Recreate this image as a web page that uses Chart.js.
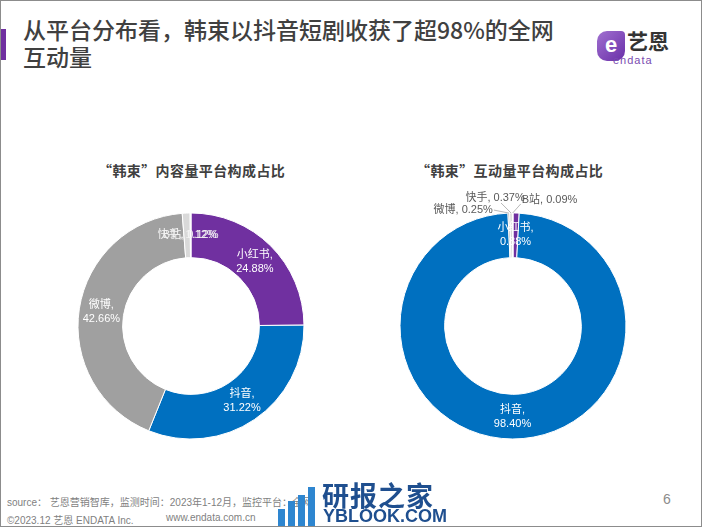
<!DOCTYPE html>
<html>
<head>
<meta charset="utf-8">
<script src="https://cdn.jsdelivr.net/npm/chart.js@4"></script>
<style>
  body { margin: 0; background: #fff; font-family: "Noto Sans CJK SC", "Liberation Sans", sans-serif; }
  #slide { position: relative; width: 700px; height: 525px; border: 1px solid #8c8c8c; overflow: hidden; background: #fff; }
  .bar { position: absolute; left: 0; top: 28px; width: 5px; height: 31px; background: #7030a0; }
  .headline { position: absolute; left: 22px; top: 15px; font-size: 23px; line-height: 27px; color: #404040; font-weight: 500; }
  .ctitle { position: absolute; top: 159px; font-size: 14px; font-weight: bold; color: #404040; white-space: nowrap; letter-spacing: 0.4px; }
  .cbox { position: absolute; width: 300px; height: 300px; }
  .foot { position: absolute; font-size: 10px; color: #7f7f7f; font-family: "Liberation Sans", "Noto Sans CJK SC", sans-serif; white-space: nowrap; }
  .logo-icon { position: absolute; left: 596px; top: 30px; width: 28px; height: 30px; border-radius: 10px 4px 10px 10px; background: linear-gradient(135deg, #a070d0, #6a2fa8); color: #fff; font: bold 22px/28px "Liberation Sans", sans-serif; text-align: center; }
  .logo-cn { position: absolute; left: 626px; top: 27px; font-size: 21px; font-weight: bold; color: #333; line-height: 24px; }
  .logo-en { position: absolute; left: 612px; top: 53px; font-size: 11px; color: #7a4bb0; font-family: "Liberation Sans", sans-serif; letter-spacing: 1px; }
  .wm1 { position: absolute; left: 321px; top: 474px; font-size: 27px; font-weight: bold; color: #1f4f8f; letter-spacing: 1px; }
  .wm2 { position: absolute; left: 322px; top: 505px; font-size: 18px; font-weight: bold; color: #1f4f8f; font-family: "Liberation Sans", sans-serif; }
  .wmbar { position: absolute; background: #2e86d0; width: 7px; }
</style>
</head>
<body>
<div id="slide">
  <div class="bar"></div>
  <div class="headline">从平台分布看，韩束以抖音短剧收获了超98%的全网<br>互动量</div>
  <div class="logo-icon">e</div>
  <div class="logo-cn">艺恩</div>
  <div class="logo-en">endata</div>

  <div class="ctitle" style="left:97px">“韩束”内容量平台构成占比</div>
  <div class="ctitle" style="left:415px">“韩束”互动量平台构成占比</div>

  <div class="cbox" style="left:40px; top:175px"><canvas id="contentChart"></canvas></div>
  <div class="cbox" style="left:362px; top:175px"><canvas id="interactChart"></canvas></div>

  <div class="foot" style="left:6px; top:493px">source： 艺恩营销智库，监测时间：2023年1-12月，监控平台：全网</div>
  <div class="foot" style="left:6px; top:511px">©2023.12 艺恩 ENDATA Inc.</div>
  <div class="foot" style="left:165px; top:511px">www.endata.com.cn</div>
  <div class="foot" style="left:662px; top:490px; font-size:14px; color:#8c8c8c">6</div>

  <div class="wmbar" style="left:277px; top:508px; height:17px"></div>
  <div class="wmbar" style="left:287px; top:500px; height:25px"></div>
  <div class="wmbar" style="left:297px; top:494px; height:31px"></div>
  <div class="wmbar" style="left:307px; top:486px; height:39px"></div>
  <div class="wm1">研报之家</div>
  <div class="wm2">YBLOOK.COM</div>
</div>

<script>
// 平台
var platforms = ['小红书', '抖音', '微博', '快手', 'B站'];
// 内容量占比 (%)
var contentShare = [24.88, 31.22, 42.66, 1.12, 0.12];
// 互动量占比 (%)
var interactShare = [0.88, 98.40, 0.25, 0.37, 0.09];

var platformColors = ['#7030a0', '#0070c0', '#a0a0a0', '#d9d9d9', '#ececec'];

// desenha os rótulos "nome, xx.xx%"
var sliceLabels = {
  id: 'sliceLabels',
  afterDatasetsDraw: function (chart, args, opts) {
    var ctx = chart.ctx;
    var meta = chart.getDatasetMeta(0);
    var values = chart.data.datasets[0].data;
    ctx.save();
    ctx.font = '11px "Liberation Sans", "Noto Sans CJK SC", sans-serif';
    ctx.textBaseline = 'middle';
    meta.data.forEach(function (arc, i) {
      var name = chart.data.labels[i];
      var pct = values[i].toFixed(2) + '%';
      var out = opts.outside && opts.outside[i];
      if (out) {
        var p = arc.getProps(['x', 'y', 'startAngle', 'endAngle', 'outerRadius'], true);
        var mid = (p.startAngle + p.endAngle) / 2;
        var ox = p.x + Math.cos(mid) * p.outerRadius;
        var oy = p.y + Math.sin(mid) * p.outerRadius;
        var tx = ox + out.dx, ty = oy + out.dy;
        ctx.strokeStyle = '#a6a6a6';
        ctx.lineWidth = 0.8;
        ctx.beginPath();
        ctx.moveTo(tx + out.lx, ty + out.ly);
        ctx.lineTo(ox, oy);
        ctx.stroke();
        ctx.fillStyle = '#595959';
        ctx.textAlign = out.align;
        ctx.fillText(name + ', ' + pct, tx, ty);
      } else {
        var c = arc.tooltipPosition();
        ctx.fillStyle = i >= 3 ? '#f4f4f4' : '#ffffff';
        ctx.textAlign = 'center';
        if (i >= 3) {
          ctx.fillText(name + ', ' + pct, c.x, c.y);
        } else {
          ctx.fillText(name + ',', c.x, c.y - 7);
          ctx.fillText(pct, c.x, c.y + 7);
        }
      }
    });
    ctx.restore();
  }
};

function makeDonut(id, values, outside) {
  var ctx = document.getElementById(id).getContext('2d');
  return new Chart(ctx, {
    type: 'doughnut',
    data: {
      labels: platforms,
      datasets: [{
        data: values,
        backgroundColor: platformColors,
        borderColor: '#ffffff',
        borderWidth: 1
      }]
    },
    options: {
      responsive: false,
      animation: false,
      events: [],
      radius: 113,
      cutout: '60.5%',
      layout: { padding: 0 },
      plugins: {
        legend: { display: false },
        tooltip: { enabled: false },
        sliceLabels: { outside: outside }
      }
    },
    plugins: [sliceLabels]
  });
}

document.getElementById('contentChart').width = 300;
document.getElementById('contentChart').height = 300;
document.getElementById('interactChart').width = 300;
document.getElementById('interactChart').height = 300;

makeDonut('contentChart', contentShare, null);
makeDonut('interactChart', interactShare, {
  2: { dx: -16, dy: -3, align: 'right', lx: 1, ly: 0 },
  3: { dx: -16, dy: -15, align: 'center', lx: 6, ly: 5 },
  4: { dx: 9, dy: -13, align: 'left', lx: -1, ly: 4 }
});
</script>
</body>
</html>
